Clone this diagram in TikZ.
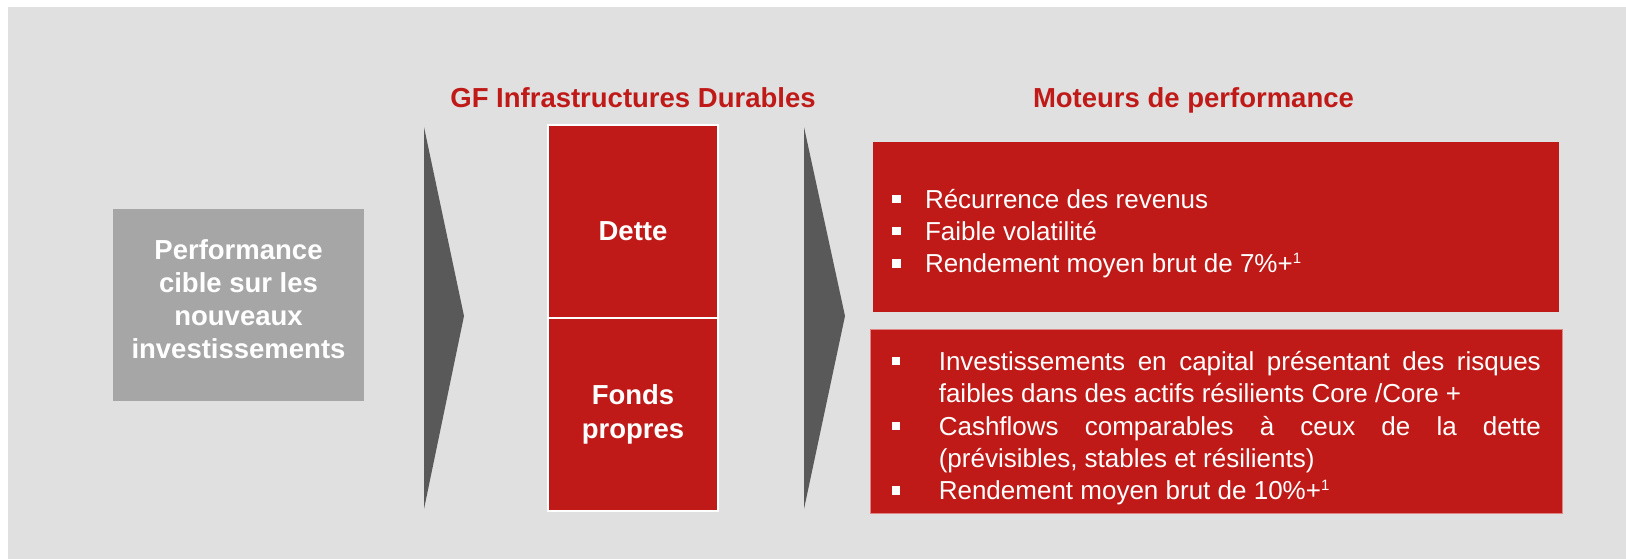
\documentclass[tikz,border=0pt]{standalone}
\usepackage{fontspec}
\setmainfont{Liberation Sans}
\usetikzlibrary{positioning}
\definecolor{bggray}{HTML}{E0E0E0}
\definecolor{boxgray}{HTML}{A6A6A6}
\definecolor{arrowgray}{HTML}{595959}
\definecolor{gfred}{HTML}{C01A18}
\definecolor{gfpink}{HTML}{E08585}
\tolerance=9999
\hbadness=10000
% square bullet with hanging indent
\newcommand{\puce}[1]{\par\noindent\hangindent=#1\hangafter=1%
  \makebox[#1][l]{\hspace{8pt}\rule[5pt]{8.5pt}{8.5pt}}}
% footnote mark
\newcommand{\noteone}{\raisebox{9pt}{\fontsize{15}{15}\selectfont 1}}
\tikzset{%
  % Specifications for style of shapes:
   chevron/.style={
           fill=arrowgray},
  % Specifications for style of nodes:
   basetext/.style = {text=white, align=center,
                  font=\bfseries\fontsize{27.5}{33}\selectfont},
   base/.style = {rectangle, fill=boxgray,
                  minimum width=251pt, minimum height=192pt},
   fintext/.style = {text=white, align=center,
                  font=\bfseries\fontsize{27.5}{34}\selectfont},
   finance/.style = {rectangle, draw=white, line width=2pt, fill=gfred,
                  outer sep=0pt, minimum width=170pt, minimum height=193pt,
                  fintext},
   heading/.style = {inner sep=0pt, text=gfred,
                  font=\bfseries\fontsize{27.5}{33}\selectfont},
   driver/.style = {rectangle, fill=gfred, inner sep=0pt},
   bullets/.style = {inner sep=0pt, anchor=west, text=white,
                  text width=657pt, align=justify,
                  font=\fontsize{26}{32.3}\selectfont},
}

\begin{document}
\begin{tikzpicture}[x=1pt, y=-1pt]
  \useasboundingbox (0,0) rectangle (1626,559);
  % Background panel
  \fill[bggray] (8,7) rectangle (1626,559);

  % Specification of nodes (position, etc.)
  \node (perf_block)	[base]	at (238.5,305)	{};
  \node (perf_text)	[basetext]	at ([yshift=6pt]perf_block.center)	{Performance\\cible sur les\\nouveaux\\investissements};
  \node (dette_block)	[finance]	at (633,221.5)	{};
  \node (dette_text)	[fintext]	at ([yshift=-9.5pt]dette_block.center)	{Dette};
  \node (fonds_block)	[finance, below=0pt of dette_block]	{Fonds\\propres};
  \node (gf_title)	[heading, above=17.5pt of dette_block]	{GF Infrastructures Durables};
  \node (perf_title)	[heading, base right=217pt of gf_title]	{Moteurs de performance};

  \node (drivers_top)	[driver, minimum width=686pt, minimum height=170pt]	at (1216,227)	{};
  \node (drivers_bottom)	[driver, draw=gfpink, line width=0.8pt, minimum width=692pt,
        minimum height=184pt, below=17pt of drivers_top]	{};
  \node (top_list)	[bullets]	at ([xshift=11pt]drivers_top.west)
        {\puce{41pt}Récurrence des revenus
         \puce{41pt}Faible volatilité
         \puce{41pt}Rendement moyen brut de 7\%+\noteone};
  \node (bottom_list)	[bullets]	at ([xshift=14pt]drivers_bottom.west)
        {\puce{55pt}Investissements en capital présentant des risques\linebreak
         faibles dans des actifs résilients Core /Core +
         \puce{55pt}Cashflows comparables à ceux de la dette\linebreak
         (prévisibles, stables et résilients)
         \puce{55pt}Rendement moyen brut de 10\%+\noteone};

  % Chevrons between the columns
  \fill[chevron] (424,127) -- (464,316) -- (424,509) -- cycle;
  \fill[chevron] (804,127) -- (845,316) -- (804,509) -- cycle;
\end{tikzpicture}
\end{document}
